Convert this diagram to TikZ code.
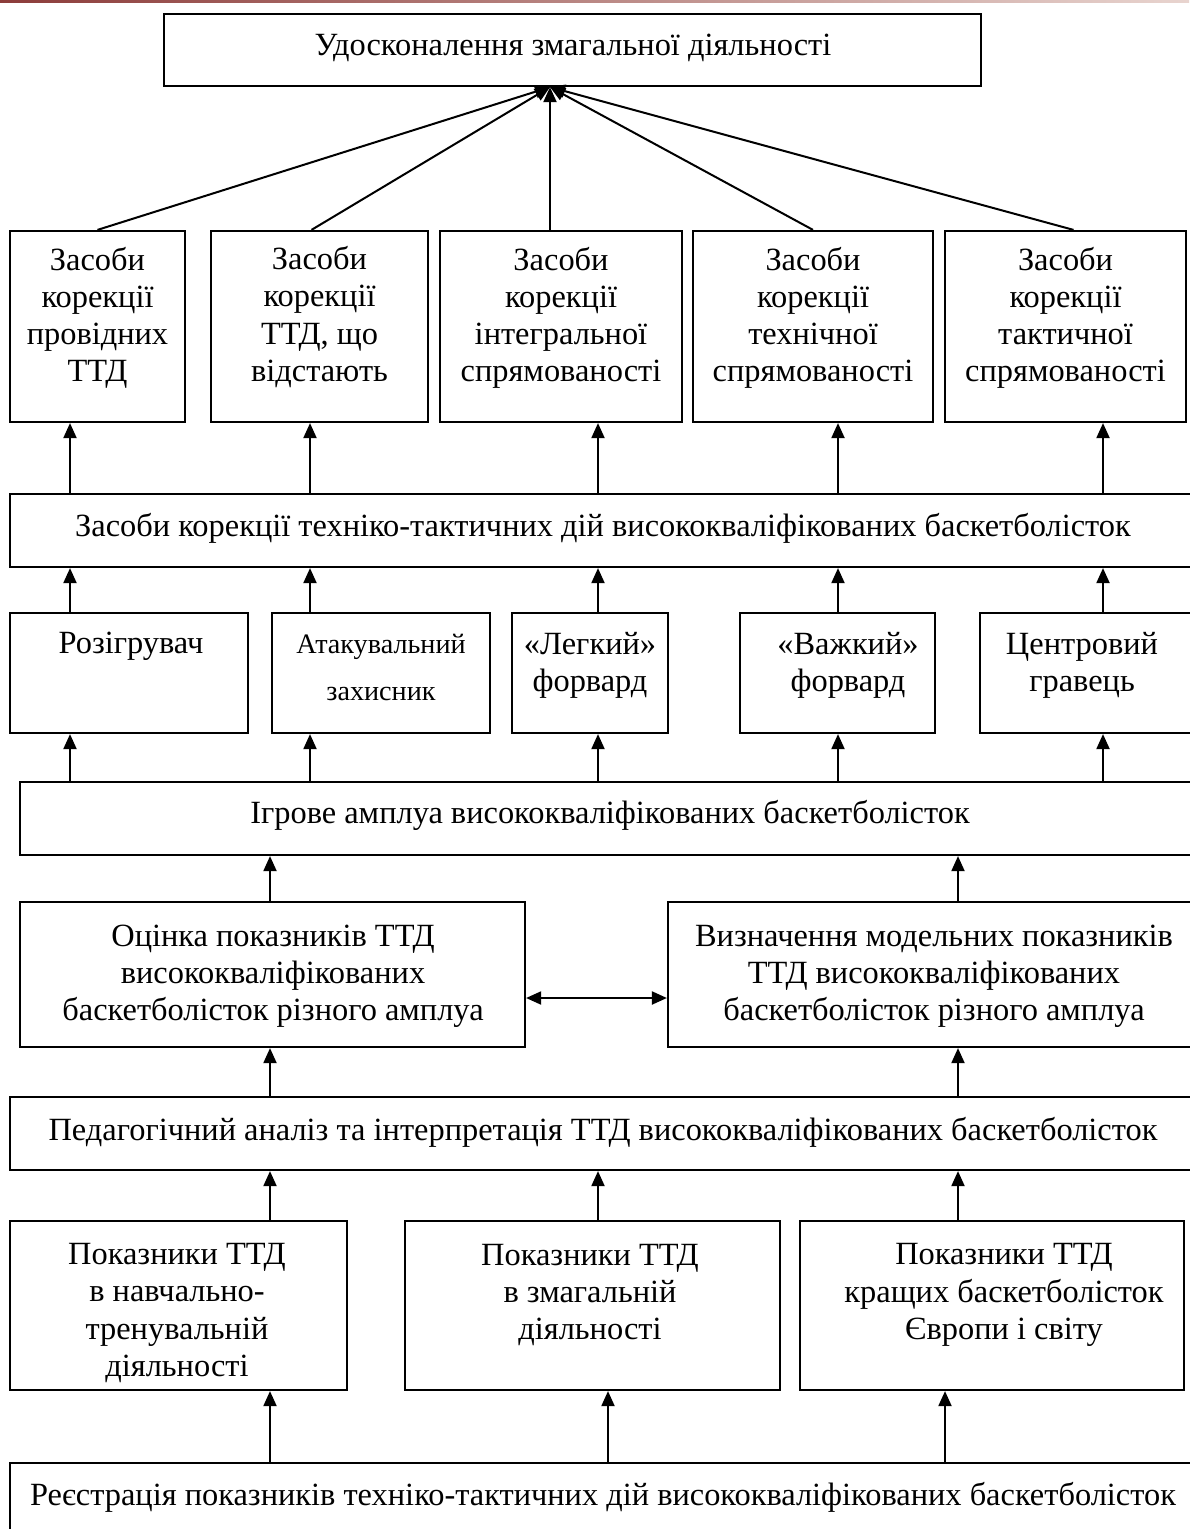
\documentclass[tikz,border=0pt]{standalone}
\usepackage{fontspec}
\setmainfont{Liberation Serif}
\usetikzlibrary{arrows.meta,calc}
\definecolor{barL}{RGB}{140,60,58}
\definecolor{barR}{RGB}{232,212,207}

\begin{document}
\begin{tikzpicture}[x=0.5pt,y=-0.5pt,
  box/.style={draw, line width=1.1pt, inner sep=0pt},
  wh/.style 2 args={minimum width=#1*0.5pt, minimum height=#2*0.5pt},
  txt/.style={align=center, inner sep=0pt, font=\fontsize{16.2}{18.6}\selectfont},
  smalltxt/.style={align=center, inner sep=0pt, font=\fontsize{14.1}{23.5}\selectfont},
  tip/.tip={Triangle[length=7.5pt,width=6.5pt]},
  arr/.style={line width=1pt, -tip},
  biarr/.style={line width=1pt, tip-tip},
  ]
\useasboundingbox (0,0) rectangle (1189,1529);

% header rule
\shade[left color=barL, right color=barR] (0,0) rectangle (1189,3);

% goal
\node[box, wh={817}{72}] (goal) at (572.5,50) {};
\node[txt] (goal-t) at (573,48) {Удосконалення змагальної діяльності};

% correction means (row of five)
\node[box, wh={175}{191}] (m1) at (97.5,326.5) {};
\node[txt] (m1-t) at (97.5,318) {Засоби\\корекції\\провідних\\ТТД};
\node[box, wh={217}{191}] (m2) at (319.5,326.5) {};
\node[txt] (m2-t) at (319.5,317) {Засоби\\корекції\\ТТД, що\\відстають};
\node[box, wh={242}{191}] (m3) at (561,326.5) {};
\node[txt] (m3-t) at (561,318) {Засоби\\корекції\\інтегральної\\спрямованості};
\node[box, wh={240}{191}] (m4) at (813,326.5) {};
\node[txt] (m4-t) at (813,318) {Засоби\\корекції\\технічної\\спрямованості};
\node[box, wh={241}{191}] (m5) at (1065.5,326.5) {};
\node[txt] (m5-t) at (1065.5,318) {Засоби\\корекції\\тактичної\\спрямованості};

% all correction means
\node[box, wh={1185}{73}] (means) at (602.5,530.5) {};
\node[txt] (means-t) at (603,528) {Засоби корекції техніко-тактичних дій висококваліфікованих баскетболісток};

% playing roles
\node[box, wh={238}{120}] (r1) at (129,673) {};
\node[txt] (r1-t) at (131,646) {Розігрувач};
\node[box, wh={218}{120}] (r2) at (381,673) {};
\node[smalltxt] (r2-t) at (381,667) {Атакувальний\\захисник};
\node[box, wh={156}{120}] (r3) at (590,673) {};
\node[txt] (r3-t) at (590,665) {«Легкий»\\форвард};
\node[box, wh={195}{120}] (r4) at (837.5,673) {};
\node[txt] (r4-t) at (848,665) {«Важкий»\\форвард};
\node[box, wh={215}{120}] (r5) at (1087.5,673) {};
\node[txt] (r5-t) at (1082,665) {Центровий\\гравець};

% role block
\node[box, wh={1175}{73}] (role) at (607.5,818.5) {};
\node[txt] (role-t) at (610,815) {Ігрове амплуа висококваліфікованих баскетболісток};

% evaluation and model indices
\node[box, wh={505}{145}] (est) at (272.5,974.5) {};
\node[txt] (est-t) at (273,976) {Оцінка показників ТТД\\висококваліфікованих\\баскетболісток різного амплуа};
\node[box, wh={527}{145}] (model) at (931.5,974.5) {};
\node[txt] (model-t) at (934,976) {Визначення модельних показників\\ТТД висококваліфікованих\\баскетболісток різного амплуа};

% pedagogical analysis
\node[box, wh={1185}{73}] (ped) at (602.5,1133.5) {};
\node[txt] (ped-t) at (603,1132) {Педагогічний аналіз та інтерпретація ТТД висококваліфікованих баскетболісток};

% sources of indices
\node[box, wh={337}{169}] (s1) at (178.5,1305.5) {};
\node[txt] (s1-t) at (177,1313) {Показники ТТД\\в навчально-\\тренувальній\\діяльності};
\node[box, wh={375}{169}] (s2) at (592.5,1305.5) {};
\node[txt] (s2-t) at (590,1295) {Показники ТТД\\в змагальній\\діяльності};
\node[box, wh={384}{169}] (s3) at (992,1305.5) {};
\node[txt] (s3-t) at (1004,1295) {Показники ТТД\\кращих баскетболісток\\Європи і світу};

% registration
\node[box, wh={1185}{76}] (reg) at (602.5,1501) {};
\node[txt] (reg-t) at (603,1497) {Реєстрація показників техніко-тактичних дій висококваліфікованих баскетболісток};

% column guides
\coordinate (hub) at ($(goal.south)+(-22.5,0)$);
\coordinate (c1) at (70,0);
\coordinate (c2) at (310,0);
\coordinate (c3) at (598,0);
\coordinate (c4) at (838,0);
\coordinate (c5) at (1103,0);
\coordinate (dl) at (270,0);
\coordinate (dr) at (958,0);
\coordinate (f2) at (608,0);
\coordinate (f3) at (945,0);
\coordinate (mid) at (0,998);

% converging arrows to the goal
\draw[arr] (m1.north) -- (hub);
\draw[arr] ($(m2.north)+(-8,0)$) -- (hub);
\draw[arr] (m3.north -| hub) -- (hub);
\draw[arr] (m4.north) -- (hub);
\draw[arr] ($(m5.north)+(8,0)$) -- (hub);

% roles -> means -> five correction boxes
\foreach \i in {1,...,5} {
  \draw[arr] (means.north -| c\i) -- (m\i.south -| c\i);
  \draw[arr] (r\i.north -| c\i) -- (means.south -| c\i);
  \draw[arr] (role.north -| c\i) -- (r\i.south -| c\i);
}

% evaluation/model -> roles
\draw[arr] (est.north -| dl) -- (role.south -| dl);
\draw[arr] (model.north -| dr) -- (role.south -| dr);
\draw[biarr] (est.east |- mid) -- (model.west |- mid);

% analysis -> evaluation/model
\draw[arr] (ped.north -| dl) -- (est.south -| dl);
\draw[arr] (ped.north -| dr) -- (model.south -| dr);

% sources -> analysis
\draw[arr] (s1.north -| dl) -- (ped.south -| dl);
\draw[arr] (s2.north -| c3) -- (ped.south -| c3);
\draw[arr] (s3.north -| dr) -- (ped.south -| dr);

% registration -> sources
\draw[arr] (reg.north -| dl) -- (s1.south -| dl);
\draw[arr] (reg.north -| f2) -- (s2.south -| f2);
\draw[arr] (reg.north -| f3) -- (s3.south -| f3);
\end{tikzpicture}
\end{document}
